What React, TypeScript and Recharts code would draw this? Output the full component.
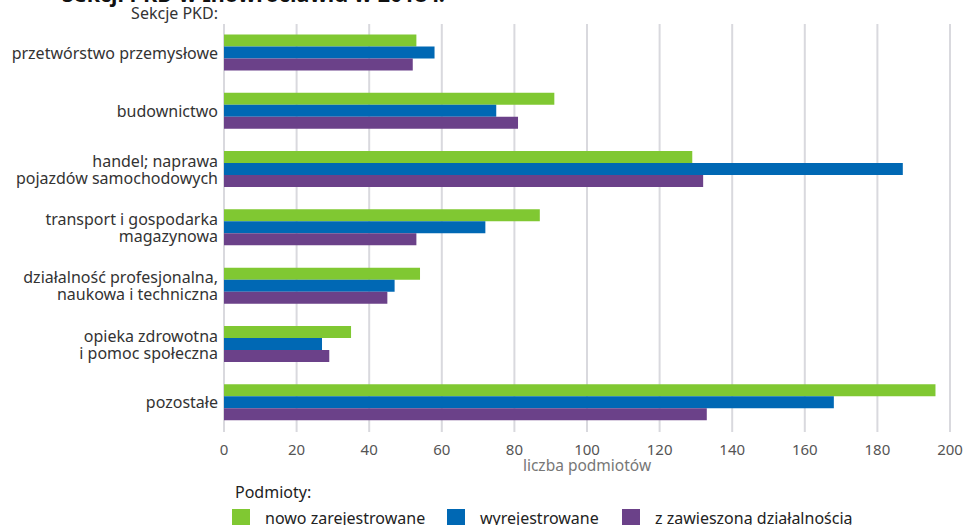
import { BarChart, Bar, XAxis, YAxis, CartesianGrid } from "recharts"

const categories = [
  "przetwórstwo przemysłowe",
  "budownictwo",
  "handel; naprawa\npojazdów samochodowych",
  "transport i gospodarka\nmagazynowa",
  "działalność profesjonalna,\nnaukowa i techniczna",
  "opieka zdrowotna\ni pomoc społeczna",
  "pozostałe",
]

const nowoZarejestrowane = [53, 91, 129, 87, 54, 35, 196]
const wyrejestrowane = [58, 75, 187, 72, 47, 27, 168]
const zawieszone = [52, 81, 132, 53, 45, 29, 133]

const xTicks = [0, 20, 40, 60, 80, 100, 120, 140, 160, 180, 200]

const COLORS = {
  green: "#80c832",
  blue: "#0068b4",
  purple: "#6b4189",
}

const FONT = "'Noto Sans', sans-serif"

const data = categories.map((name, i) => ({
  name,
  nowo: nowoZarejestrowane[i],
  wyrej: wyrejestrowane[i],
  zaw: zawieszone[i],
}))

// etykiety osi Y w kilku liniach, wyrównane do prawej
const CategoryTick = ({ x, y, payload }: any) => {
  const lines = String(payload.value).split("\n")
  const lh = 17
  const startY = y - ((lines.length - 1) * lh) / 2
  return (
    <text x={x} y={startY} textAnchor="end" fill="#333" fontSize={16} fontFamily={FONT}>
      {lines.map((l, i) => (
        <tspan key={i} x={x} y={startY + i * lh} dy="0.35em">
          {l}
        </tspan>
      ))}
    </text>
  )
}

const legendItems = [
  { label: "nowo zarejestrowane", color: COLORS.green, x: 232 },
  { label: "wyrejestrowane", color: COLORS.blue, x: 447 },
  { label: "z zawieszoną działalnością", color: COLORS.purple, x: 622 },
]

export default function App() {
  return (
    <div
      style={{
        position: "absolute",
        top: 0,
        left: 0,
        width: 966,
        height: 525,
        overflow: "hidden",
        background: "#fff",
        fontFamily: FONT,
      }}
    >
      <div
        style={{
          position: "absolute",
          left: 62,
          top: -21,
          fontSize: 21.5,
          fontWeight: 700,
          color: "#111",
          whiteSpace: "nowrap",
        }}
      >
        Sekcji PKD w Inowrocławiu w 2018 r.
      </div>
      <div
        style={{
          position: "absolute",
          right: 966 - 218,
          top: 2,
          fontSize: 16,
          color: "#333",
          whiteSpace: "nowrap",
        }}
      >
        Sekcje PKD:
      </div>
      <BarChart
        width={966}
        height={525}
        data={data}
        layout="vertical"
        margin={{ top: 24, right: 16, bottom: 0, left: 0 }}
        barCategoryGap={10.5}
        barGap={0}
      >
        <CartesianGrid horizontal={false} stroke="#d9d9de" strokeWidth={2} />
        <XAxis
          type="number"
          domain={[0, 200]}
          ticks={xTicks}
          height={93}
          axisLine={false}
          tickLine={false}
          tickMargin={6}
          tick={{ fill: "#555", fontSize: 15, fontFamily: FONT }}
          label={{
            value: "liczba podmiotów",
            position: "insideTop",
            offset: 28,
            fill: "#777",
            fontSize: 15.5,
            fontFamily: FONT,
          }}
        />
        <YAxis
          type="category"
          dataKey="name"
          width={224}
          axisLine={false}
          tickLine={false}
          tickMargin={0}
          tick={<CategoryTick />}
        />
        <Bar dataKey="nowo" fill={COLORS.green} isAnimationActive={false} />
        <Bar dataKey="wyrej" fill={COLORS.blue} isAnimationActive={false} />
        <Bar dataKey="zaw" fill={COLORS.purple} isAnimationActive={false} />
      </BarChart>
      <div
        style={{
          position: "absolute",
          left: 235,
          top: 481,
          fontSize: 16,
          color: "#222",
        }}
      >
        Podmioty:
      </div>
      {legendItems.map((it) => (
        <div
          key={it.label}
          style={{
            position: "absolute",
            left: it.x,
            top: 507,
            display: "flex",
            alignItems: "center",
            whiteSpace: "nowrap",
          }}
        >
          <div style={{ width: 18, height: 18, background: it.color, marginRight: 15 }} />
          <span style={{ fontSize: 16, color: "#222" }}>{it.label}</span>
        </div>
      ))}
    </div>
  )
}
